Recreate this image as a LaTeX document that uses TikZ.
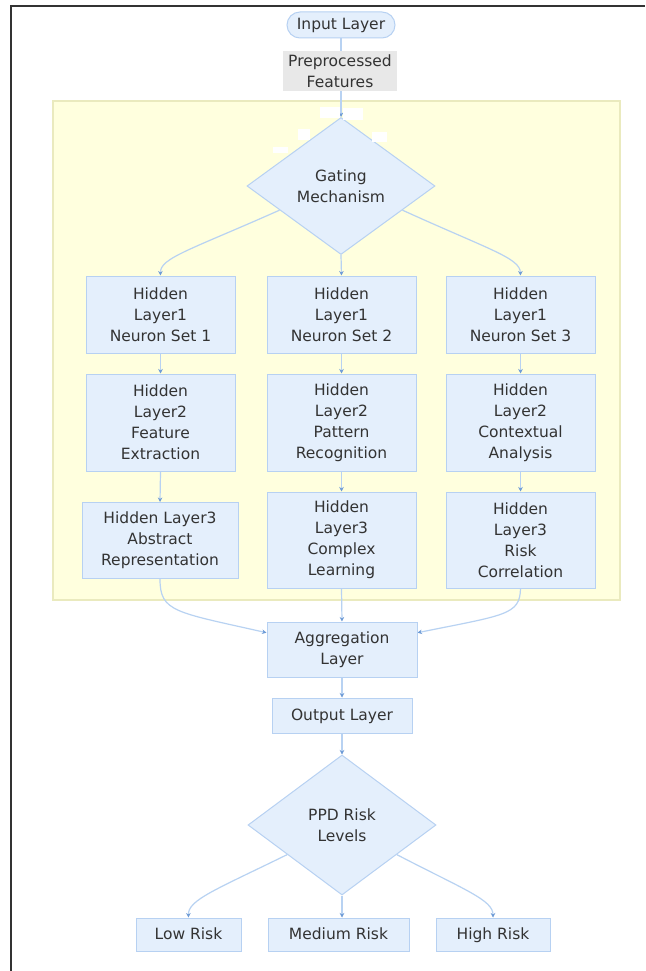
\documentclass[tikz,border=0pt]{standalone}
\usepackage{fontspec}
\setmainfont{DejaVu Sans}
\usetikzlibrary{shapes.geometric,arrows.meta,calc}
\definecolor{boxfill}{HTML}{E4EFFC}
\definecolor{boxline}{HTML}{B7D1F2}
\definecolor{edgecol}{HTML}{B8D2F2}
\definecolor{tipcol}{HTML}{6E9BD6}
\definecolor{txt}{HTML}{333333}
\definecolor{clfill}{HTML}{FFFFDE}
\definecolor{clline}{HTML}{EAEABE}
\definecolor{lblfill}{HTML}{E8E8E8}
\pgfdeclarelayer{bg}
\pgfdeclarelayer{edges}
\pgfsetlayers{bg,edges,main}
\tikzset{
  base/.style={font=\fontsize{15.5}{21}\selectfont, text=txt, align=center, inner sep=0pt},
  box/.style={base, draw=boxline, fill=boxfill, line width=1pt, rectangle},
  oneline/.style={text height=12.5pt, text depth=2.5pt},
  dec/.style={base, diamond, draw=boxline, fill=boxfill, line width=1pt},
  conn/.style={draw=edgecol, line width=1.2pt, -{Stealth[length=4.5pt,width=4.5pt,color=tipcol]}},
  blank/.style={fill=white, draw=none, inner sep=0pt}
}
\begin{document}
\begin{tikzpicture}[x=1pt,y=-1pt]
\useasboundingbox (0,0) rectangle (645,971);

% nodes
\node[box, oneline, rounded corners=13pt, minimum width=108pt, minimum height=26pt] (inp) at (341,25) {Input Layer};
\node[base, fill=lblfill, minimum width=114pt, minimum height=40pt] (pre) at (340,71) {Preprocessed\\Features};
\node[dec, aspect=1.372, minimum width=188pt, minimum height=137pt] (gate) at (341,186) {Gating\\Mechanism};

\node[box, minimum width=149pt, minimum height=77pt] (h11) at (160.5,314.5) {Hidden\\Layer1\\Neuron Set 1};
\node[box, minimum width=149pt, minimum height=77pt] (h12) at (341.5,314.5) {Hidden\\Layer1\\Neuron Set 2};
\node[box, minimum width=149pt, minimum height=77pt] (h13) at (520.5,314.5) {Hidden\\Layer1\\Neuron Set 3};

\node[box, minimum width=149pt, minimum height=97pt] (h21) at (160.5,422.5) {Hidden\\Layer2\\Feature\\Extraction};
\node[box, minimum width=149pt, minimum height=97pt] (h22) at (341.5,422.5) {Hidden\\Layer2\\Pattern\\Recognition};
\node[box, minimum width=149pt, minimum height=97pt] (h23) at (520.5,422.5) {Hidden\\Layer2\\Contextual\\Analysis};

\node[box, minimum width=156pt, minimum height=76pt] (h31) at (160,540.5) {Hidden Layer3\\Abstract\\Representation};
\node[box, minimum width=149pt, minimum height=96pt] (h32) at (341.5,540) {Hidden\\Layer3\\Complex\\Learning};
\node[box, minimum width=149pt, minimum height=96pt] (h33) at (520.5,540) {Hidden\\Layer3\\Risk\\Correlation};

\node[box, minimum width=150pt, minimum height=55pt] (agg) at (342,649.5) {Aggregation\\Layer};
\node[box, oneline, minimum width=140pt, minimum height=35pt] (out) at (342,715.5) {Output Layer};
\node[dec, aspect=1.343, minimum width=188pt, minimum height=140pt] (ppd) at (342,825) {PPD Risk\\Levels};

\node[box, oneline, minimum width=105pt, minimum height=33pt] (low) at (188.5,934.5) {Low Risk};
\node[box, oneline, minimum width=141pt, minimum height=33pt] (med) at (338.5,934.5) {Medium Risk};
\node[box, oneline, minimum width=114pt, minimum height=33pt] (high) at (493,934.5) {High Risk};

% empty edge-label patches near the gating diamond
\node[blank, minimum width=20pt, minimum height=11pt] (w1) at (330,112.5) {};
\node[blank, minimum width=20pt, minimum height=12pt] (w2) at (353,114) {};
\node[blank, minimum width=12pt, minimum height=11pt] (w3) at (304,134.5) {};
\node[blank, minimum width=15pt, minimum height=10pt] (w4) at (379.5,137) {};
\node[blank, minimum width=15pt, minimum height=6pt] (w5) at (280.5,150) {};

% background, frame and cluster
\begin{pgfonlayer}{bg}
\fill[white] (0,0) rectangle (645,971);
\draw[color=black!80, line width=2pt] (11,971) -- (11,6) -- (645,6);
\draw[fill=clfill, draw=clline, line width=1.2pt] (53,101) rectangle (620,600);
\end{pgfonlayer}

% connectors
\begin{pgfonlayer}{edges}
\draw[conn] (inp.south) -- (gate.north);
\coordinate (gl) at ($(gate.west)!0.35!(gate.south)$);
\coordinate (gr) at ($(gate.east)!0.35!(gate.south)$);
\draw[conn] (gl) .. controls (190,250) and (160,258) .. (h11.north);
\draw[conn] (gate.south) -- (h12.north);
\draw[conn] (gr) .. controls (490,250) and (520,258) .. (h13.north);

\draw[conn] (h11.south) -- (h21.north);
\draw[conn] (h12.south) -- (h22.north);
\draw[conn] (h13.south) -- (h23.north);
\draw[conn] (h21.south) -- (h31.north);
\draw[conn] (h22.south) -- (h32.north);
\draw[conn] (h23.south) -- (h33.north);

\coordinate (al) at ($(agg.north west)!0.2!(agg.south west)$);
\coordinate (ar) at ($(agg.north east)!0.2!(agg.south east)$);
\draw[conn] (h31.south) .. controls (160,612) and (175,612) .. (al);
\draw[conn] (h32.south) -- (agg.north);
\draw[conn] (h33.south) .. controls (520,615) and (505,615) .. (ar);

\draw[conn] (agg.south) -- (out.north);
\draw[conn] (out.south) -- (ppd.north);

\coordinate (pl) at ($(ppd.west)!0.42!(ppd.south)$);
\coordinate (pr) at ($(ppd.east)!0.42!(ppd.south)$);
\draw[conn] (pl) .. controls (215,890) and (188,900) .. (low.north);
\draw[conn] (ppd.south) -- (ppd.south |- med.north);
\draw[conn] (pr) .. controls (465,890) and (493,900) .. (high.north);
\end{pgfonlayer}
\end{tikzpicture}
\end{document}
